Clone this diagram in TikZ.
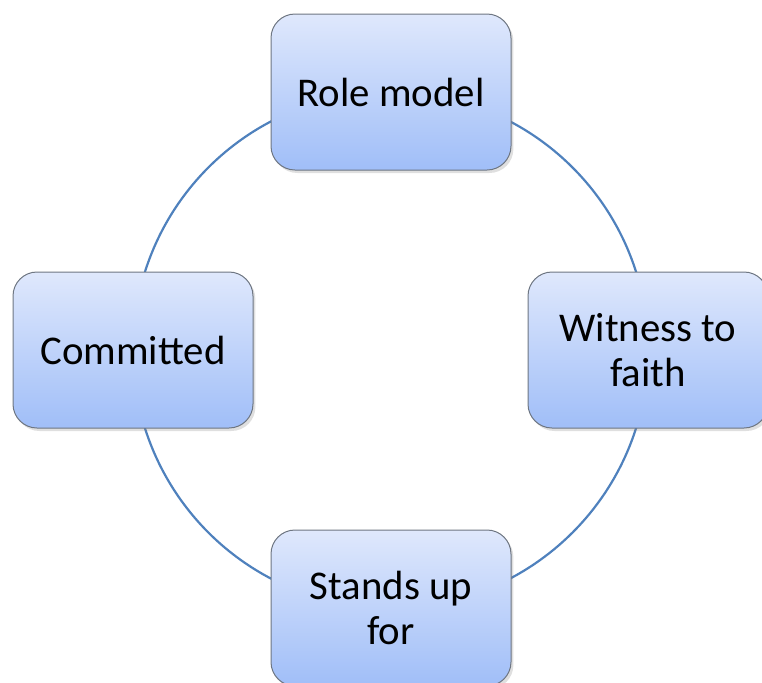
\documentclass[tikz,border=0pt]{standalone}
\usepackage{fontspec}
\setmainfont{Carlito}
\usetikzlibrary{shadows,backgrounds}
\definecolor{boxtop}{RGB}{223,232,252}
\definecolor{boxbottom}{RGB}{160,190,248}
\definecolor{ringblue}{RGB}{79,129,189}
\definecolor{boxedge}{RGB}{110,118,130}

\begin{document}
\begin{tikzpicture}[x=0.5pt,y=-0.5pt,
		stage/.style={draw=boxedge,line width=0.5pt,rounded corners=12pt,top color=boxtop,bottom color=boxbottom,
			minimum width=120pt,minimum height=78pt,align=center,font=\fontsize{20.4}{22.5}\selectfont,
			drop shadow={shadow xshift=1.2pt,shadow yshift=-1.5pt,opacity=0.25}},
		ring/.style={draw=ringblue,line width=1.1pt}]
					%\draw[help lines] (0,0) grid[step=50] (762,682);
					\useasboundingbox (0,0) rectangle (762,682);
					%BOXES
					\node[stage] (role) at (391,92) {Role model};
					\node[stage] (witness) at (648,350) {Witness to\\faith};
					\node[stage] (stands) at (391,608) {Stands up\\for};
					\node[stage] (committed) at (133,350) {Committed};
					
					%RING
					\begin{scope}[on background layer]
					\draw[ring] (role.center) to[bend left=45] (witness.center) to[bend left=45] (stands.center)
						to[bend left=45] (committed.center) to[bend left=45] (role.center);
					\end{scope}
					
				  \end{tikzpicture}
\end{document}
